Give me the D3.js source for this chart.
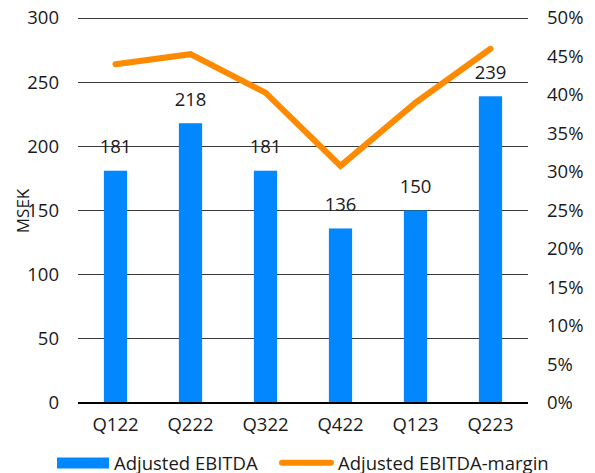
<!DOCTYPE html>
<html>
<head>
<meta charset="utf-8">
<script src="https://cdn.jsdelivr.net/npm/d3@7"></script>
<style>
  body { margin: 0; background: #fff; }
  text { font-family: "Open Sans", "Noto Sans", sans-serif; fill: #1a1a1a; }
</style>
</head>
<body>
<div id="chart"></div>
<script>
const quarters = ["Q122", "Q222", "Q322", "Q422", "Q123", "Q223"];
const ebitda = [181, 218, 181, 136, 150, 239];
const margin = [44.0, 45.3, 40.3, 30.8, 39.0, 46.0];
const leftTicks = [0, 50, 100, 150, 200, 250, 300];
const rightTicks = [0, 5, 10, 15, 20, 25, 30, 35, 40, 45, 50];

const width = 595, height = 473;
const plot = {left: 78, right: 528, top: 18, bottom: 403};

const svg = d3.select("#chart").append("svg")
    .attr("width", width)
    .attr("height", height);

const x = d3.scaleBand()
    .domain(quarters)
    .range([plot.left, plot.right])
    .paddingInner(0.69)
    .paddingOuter(0.345);

const y = d3.scaleLinear().domain([0, 300]).range([plot.bottom, plot.top]);
const y2 = d3.scaleLinear().domain([0, 50]).range([plot.bottom, plot.top]);

// gridlines
svg.append("g")
    .selectAll("line")
    .data(leftTicks.filter(d => d > 0))
    .join("line")
    .attr("x1", plot.left).attr("x2", plot.right)
    .attr("y1", d => y(d)).attr("y2", d => y(d))
    .attr("stroke", "#3a3a3a")
    .attr("stroke-width", 1)
    .attr("shape-rendering", "crispEdges");

// left axis labels
const leftAxis = svg.append("g")
    .attr("transform", `translate(${plot.left - 19},0)`)
    .call(d3.axisLeft(y).tickValues(leftTicks).tickSize(0).tickPadding(0));
leftAxis.select(".domain").remove();
leftAxis.selectAll("text").style("font-size", "18.5px").attr("fill", "#1a1a1a");

// right axis labels
const rightAxis = svg.append("g")
    .attr("transform", `translate(${plot.right + 19},0)`)
    .call(d3.axisRight(y2).tickValues(rightTicks).tickSize(0).tickPadding(0).tickFormat(d => d + "%"));
rightAxis.select(".domain").remove();
rightAxis.selectAll("text").style("font-size", "18.5px").attr("fill", "#1a1a1a");

// bars
svg.append("g")
    .selectAll("rect")
    .data(ebitda)
    .join("rect")
    .attr("x", (d, i) => x(quarters[i]))
    .attr("y", d => y(d))
    .attr("width", x.bandwidth())
    .attr("height", d => y(0) - y(d))
    .attr("fill", "#0287FF");

// bar value labels
svg.append("g")
    .selectAll("text")
    .data(ebitda)
    .join("text")
    .attr("x", (d, i) => x(quarters[i]) + x.bandwidth() / 2)
    .attr("y", d => y(d) - 17.5)
    .attr("text-anchor", "middle")
    .style("font-size", "18.5px")
    .text(d => d);

// zero axis line
svg.append("line")
    .attr("x1", plot.left).attr("x2", plot.right)
    .attr("y1", y(0)).attr("y2", y(0))
    .attr("stroke", "#000")
    .attr("stroke-width", 2);

// x axis labels
const xAxis = svg.append("g")
    .attr("transform", `translate(0,${plot.bottom})`)
    .call(d3.axisBottom(x).tickSize(0).tickPadding(15));
xAxis.select(".domain").remove();
xAxis.selectAll("text").style("font-size", "18.5px").attr("fill", "#1a1a1a");

// margin line
const line = d3.line()
    .x((d, i) => x(quarters[i]) + x.bandwidth() / 2)
    .y(d => y2(d));
svg.append("path")
    .datum(margin)
    .attr("d", line)
    .attr("fill", "none")
    .attr("stroke", "#FF8A00")
    .attr("stroke-width", 6)
    .attr("stroke-linecap", "round")
    .attr("stroke-linejoin", "miter");

// y title
svg.append("text")
    .attr("transform", "translate(28.5,211) rotate(-90)")
    .attr("text-anchor", "middle")
    .style("font-size", "17px")
    .text("MSEK");

// legend
const lg = svg.append("g");
lg.append("rect")
    .attr("x", 57).attr("y", 457.5)
    .attr("width", 52).attr("height", 11)
    .attr("fill", "#0287FF");
lg.append("text")
    .attr("x", 114).attr("y", 469.5)
    .style("font-size", "18.5px")
    .text("Adjusted EBITDA");
lg.append("line")
    .attr("x1", 282).attr("x2", 331)
    .attr("y1", 462.7).attr("y2", 462.7)
    .attr("stroke", "#FF8A00")
    .attr("stroke-width", 6)
    .attr("stroke-linecap", "round");
lg.append("text")
    .attr("x", 338).attr("y", 469.5)
    .style("font-size", "18.5px")
    .text("Adjusted EBITDA-margin");
</script>
</body>
</html>
